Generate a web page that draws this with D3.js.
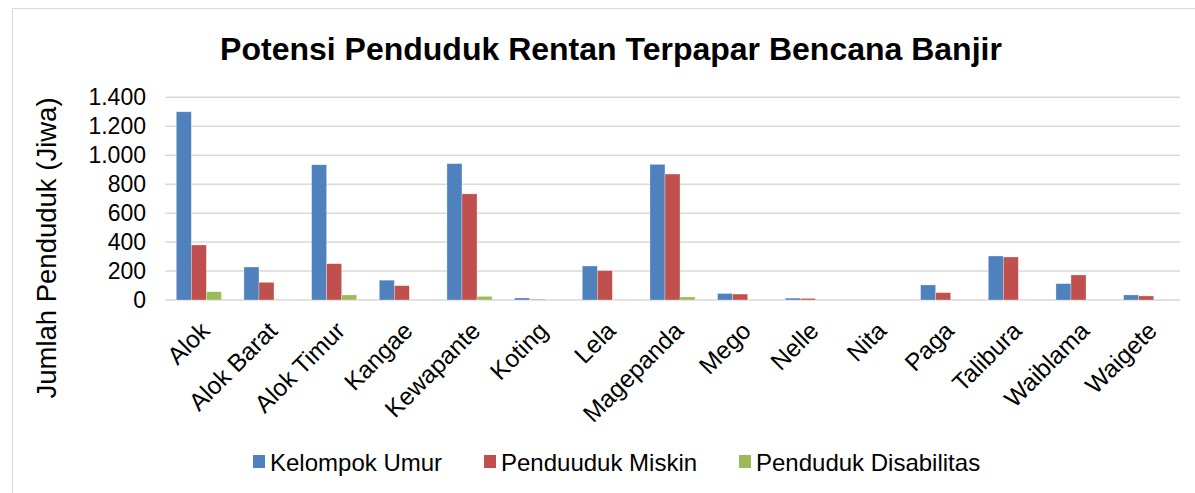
<!DOCTYPE html>
<html lang="id">
<head>
<meta charset="utf-8">
<title>Potensi Penduduk Rentan Terpapar Bencana Banjir</title>
<script src="https://d3js.org/d3.v7.min.js"></script>
<style>
  body { margin: 0; background: #fff; }
  svg { display: block; font-family: "Liberation Sans", Arial, sans-serif; }
</style>
</head>
<body>
<div id="chart"></div>
<script>
const categories = ['Alok', 'Alok Barat', 'Alok Timur', 'Kangae', 'Kewapante', 'Koting', 'Lela',
  'Magepanda', 'Mego', 'Nelle', 'Nita', 'Paga', 'Talibura', 'Waiblama', 'Waigete'];
const seriesNames = ['Kelompok Umur', 'Penduuduk Miskin', 'Penduduk Disabilitas'];
const kelompokUmur = [1300, 228, 934, 137, 942, 14, 235, 937, 45, 13, 0, 104, 304, 113, 35];
const pendudukMiskin = [380, 122, 251, 99, 733, 5, 203, 870, 41, 11, 0, 51, 297, 173, 28];
const pendudukDisabilitas = [57, 2, 35, 0, 25, 0, 2, 21, 0, 0, 0, 0, 2, 0, 0];
const yTicks = [0, 200, 400, 600, 800, 1000, 1200, 1400];
const colors = ['#4F81BD', '#C0504D', '#9BBB59'];

const width = 1195, height = 493;
const plot = {left: 165, right: 1180, top: 97.3, bottom: 300};

const svg = d3.select('#chart').append('svg')
  .attr('width', width)
  .attr('height', height);

// chart border (right and bottom edges fall outside the picture)
svg.append('rect')
  .attr('x', 12.5).attr('y', 8.5)
  .attr('width', width + 10).attr('height', height + 10)
  .attr('fill', 'none')
  .attr('stroke', '#d9d9d9')
  .attr('stroke-width', 1);

svg.append('text')
  .attr('x', 611).attr('y', 60)
  .attr('text-anchor', 'middle')
  .attr('font-weight', 'bold')
  .attr('font-size', 32)
  .text('Potensi Penduduk Rentan Terpapar Bencana Banjir');

const x0 = d3.scaleBand()
  .domain(categories)
  .range([plot.left, plot.right])
  .paddingInner(0);

// gap width 150% -> 3 bars + 1.5 bar of gap per category
const barW = x0.bandwidth() / 4.5;

const y = d3.scaleLinear()
  .domain([0, 1400])
  .range([plot.bottom, plot.top]);

// gridlines
svg.append('g')
  .selectAll('line')
  .data(yTicks)
  .join('line')
  .attr('x1', plot.left).attr('x2', plot.right)
  .attr('y1', d => y(d)).attr('y2', d => y(d))
  .attr('stroke', '#d9d9d9')
  .attr('stroke-width', 1.5);

const yAxis = d3.axisLeft(y)
  .tickValues(yTicks)
  .tickSize(0)
  .tickPadding(0)
  .tickFormat(d => d3.format(',')(d).replace(/,/g, '.'));

const gy = svg.append('g')
  .attr('transform', `translate(146,0)`)
  .call(yAxis);
gy.select('.domain').remove();
gy.selectAll('text')
  .attr('font-size', 23)
  .attr('font-family', '"Liberation Sans", Arial, sans-serif')
  .attr('fill', '#000');

svg.append('text')
  .attr('transform', 'translate(56,248) rotate(-90)')
  .attr('text-anchor', 'middle')
  .attr('font-size', 27.5)
  .text('Jumlah Penduduk (Jiwa)');

// bars
const allSeries = [kelompokUmur, pendudukMiskin, pendudukDisabilitas];
allSeries.forEach((vals, s) => {
  svg.append('g')
    .selectAll('rect')
    .data(vals)
    .join('rect')
    .attr('x', (d, i) => x0(categories[i]) + barW * 0.75 + barW * s)
    .attr('y', d => y(d))
    .attr('width', barW)
    .attr('height', d => y(0) - y(d))
    .attr('fill', colors[s])
    .attr('stroke', '#ffffff')
    .attr('stroke-opacity', 0.5)
    .attr('stroke-width', 0.6);
});

// category labels
svg.append('g')
  .selectAll('text')
  .data(categories)
  .join('text')
  .attr('transform', d => `translate(${x0(d) + x0.bandwidth() / 2},${plot.bottom + 20}) rotate(-45)`)
  .attr('text-anchor', 'end')
  .attr('dy', '0.71em')
  .attr('font-size', 24.5)
  .text(d => d);

// legend
const legendX = [253, 484, 739];
const legend = svg.append('g');
seriesNames.forEach((name, i) => {
  legend.append('rect')
    .attr('x', legendX[i]).attr('y', 455)
    .attr('width', 12).attr('height', 13)
    .attr('fill', colors[i]);
  legend.append('text')
    .attr('x', legendX[i] + 17).attr('y', 471)
    .attr('font-size', 24)
    .text(name);
});
</script>
</body>
</html>
